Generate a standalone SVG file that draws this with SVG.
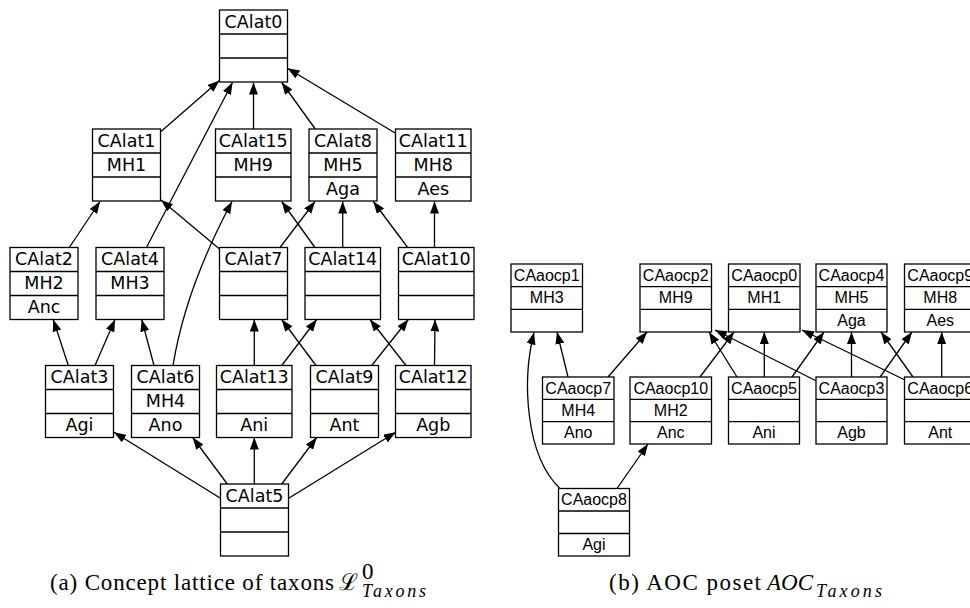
<svg xmlns="http://www.w3.org/2000/svg" width="970" height="608" viewBox="0 0 970 608">
<style>
.box{fill:#fff;stroke:#000;stroke-width:1.3}
.sep{stroke:#000;stroke-width:1.3}
.lt{font-family:"DejaVu Sans",sans-serif;font-size:17.5px;text-anchor:middle;fill:#000}
.rt{font-family:"Liberation Sans",Arial,sans-serif;font-size:16px;text-anchor:middle;fill:#000}
.e{stroke:#000;stroke-width:1.3;fill:none;marker-end:url(#ah)}
.cap{font-family:"Liberation Serif","DejaVu Serif",serif;font-size:23px;fill:#000}
.capi{font-family:"Liberation Serif","DejaVu Serif",serif;font-style:italic;fill:#000}
</style>
<defs>
<marker id="ah" markerUnits="userSpaceOnUse" markerWidth="12" markerHeight="9" refX="12" refY="4.5" orient="auto">
<path d="M0,0 L12,4.5 L0,9 z" fill="#000"/>
</marker>
</defs>
<rect width="970" height="608" fill="#fff"/>
<g id="connectors">
<line class="e" x1="161" y1="131.5" x2="219.5" y2="80.5"/>
<line class="e" x1="146.7" y1="247" x2="232.5" y2="82.5"/>
<line class="e" x1="253.5" y1="129" x2="253.5" y2="82.5"/>
<line class="e" x1="315.3" y1="129" x2="281.7" y2="82.5"/>
<line class="e" x1="395.5" y1="133.3" x2="287.5" y2="68.3"/>
<line class="e" x1="69.3" y1="247.5" x2="100" y2="201.5"/>
<line class="e" x1="219.5" y1="249" x2="161" y2="200"/>
<path class="e" d="M173,365.5 Q185.5,288.5 232,201.5"/>
<line class="e" x1="315" y1="247.5" x2="281.7" y2="201.5"/>
<line class="e" x1="280" y1="247.5" x2="315" y2="201.5"/>
<line class="e" x1="342.7" y1="247.5" x2="342.7" y2="201.5"/>
<line class="e" x1="407.3" y1="247" x2="373.3" y2="201.5"/>
<line class="e" x1="434.5" y1="247.5" x2="434.5" y2="201.5"/>
<line class="e" x1="68.3" y1="365.5" x2="53.3" y2="319.5"/>
<line class="e" x1="95" y1="365.5" x2="115" y2="319.5"/>
<line class="e" x1="154" y1="365.5" x2="141.7" y2="319.5"/>
<line class="e" x1="254.3" y1="365.5" x2="254.3" y2="319.5"/>
<line class="e" x1="281.7" y1="365.5" x2="316.7" y2="319.5"/>
<line class="e" x1="316" y1="365.5" x2="281.7" y2="319.5"/>
<line class="e" x1="371.7" y1="365.5" x2="408.3" y2="319.5"/>
<line class="e" x1="406" y1="365.5" x2="370" y2="319.5"/>
<line class="e" x1="434.5" y1="365.5" x2="435" y2="319.5"/>
<line class="e" x1="220.5" y1="498.3" x2="114" y2="432.3"/>
<line class="e" x1="227.3" y1="484" x2="192.7" y2="437.5"/>
<line class="e" x1="254.3" y1="484" x2="254.3" y2="437.5"/>
<line class="e" x1="281.7" y1="484" x2="316.7" y2="437.5"/>
<line class="e" x1="288.7" y1="498.3" x2="395.7" y2="432.3"/>
<line class="e" x1="568" y1="377" x2="557" y2="332"/>
<path class="e" d="M560,488.5 C525,455 522,380 534,332.5"/>
<line class="e" x1="608" y1="377" x2="647" y2="332"/>
<line class="e" x1="700" y1="377" x2="734" y2="332"/>
<line class="e" x1="737" y1="377" x2="709" y2="332"/>
<line class="e" x1="764.3" y1="377" x2="764.3" y2="332"/>
<line class="e" x1="792" y1="377" x2="824" y2="332"/>
<line class="e" x1="816.5" y1="381" x2="715" y2="330"/>
<line class="e" x1="905" y1="380" x2="802" y2="330"/>
<line class="e" x1="851.5" y1="377" x2="851.5" y2="332"/>
<line class="e" x1="880" y1="377" x2="912" y2="332"/>
<line class="e" x1="913" y1="377" x2="881" y2="332"/>
<line class="e" x1="941.7" y1="377" x2="941.7" y2="332"/>
<line class="e" x1="617" y1="488.5" x2="648" y2="444"/>
</g>
<g id="CAlat0"><rect class="box" x="219.5" y="10" width="68" height="72"/><line class="sep" x1="219.5" y1="34" x2="287.5" y2="34"/><line class="sep" x1="219.5" y1="58" x2="287.5" y2="58"/><text class="lt" x="253.5" y="27.5">CAlat0</text></g>
<g id="CAlat1"><rect class="box" x="92.5" y="129" width="68" height="72"/><line class="sep" x1="92.5" y1="153" x2="160.5" y2="153"/><line class="sep" x1="92.5" y1="177" x2="160.5" y2="177"/><text class="lt" x="126.5" y="146.5">CAlat1</text><text class="lt" x="126.5" y="170.5">MH1</text></g>
<g id="CAlat15"><rect class="box" x="215.5" y="129" width="75.5" height="72"/><line class="sep" x1="215.5" y1="153" x2="291" y2="153"/><line class="sep" x1="215.5" y1="177" x2="291" y2="177"/><text class="lt" x="253.25" y="146.5">CAlat15</text><text class="lt" x="253.25" y="170.5">MH9</text></g>
<g id="CAlat8"><rect class="box" x="309" y="129" width="68" height="72"/><line class="sep" x1="309" y1="153" x2="377" y2="153"/><line class="sep" x1="309" y1="177" x2="377" y2="177"/><text class="lt" x="343" y="146.5">CAlat8</text><text class="lt" x="343" y="170.5">MH5</text><text class="lt" x="343" y="194.5">Aga</text></g>
<g id="CAlat11"><rect class="box" x="395.5" y="129" width="75.5" height="72"/><line class="sep" x1="395.5" y1="153" x2="471" y2="153"/><line class="sep" x1="395.5" y1="177" x2="471" y2="177"/><text class="lt" x="433.25" y="146.5">CAlat11</text><text class="lt" x="433.25" y="170.5">MH8</text><text class="lt" x="433.25" y="194.5">Aes</text></g>
<g id="CAlat2"><rect class="box" x="10" y="247.5" width="68" height="72"/><line class="sep" x1="10" y1="271.5" x2="78" y2="271.5"/><line class="sep" x1="10" y1="295.5" x2="78" y2="295.5"/><text class="lt" x="44" y="265">CAlat2</text><text class="lt" x="44" y="289">MH2</text><text class="lt" x="44" y="313">Anc</text></g>
<g id="CAlat4"><rect class="box" x="96" y="247.5" width="68" height="72"/><line class="sep" x1="96" y1="271.5" x2="164" y2="271.5"/><line class="sep" x1="96" y1="295.5" x2="164" y2="295.5"/><text class="lt" x="130" y="265">CAlat4</text><text class="lt" x="130" y="289">MH3</text></g>
<g id="CAlat7"><rect class="box" x="219.5" y="247.5" width="68" height="72"/><line class="sep" x1="219.5" y1="271.5" x2="287.5" y2="271.5"/><line class="sep" x1="219.5" y1="295.5" x2="287.5" y2="295.5"/><text class="lt" x="253.5" y="265">CAlat7</text></g>
<g id="CAlat14"><rect class="box" x="305" y="247.5" width="75.5" height="72"/><line class="sep" x1="305" y1="271.5" x2="380.5" y2="271.5"/><line class="sep" x1="305" y1="295.5" x2="380.5" y2="295.5"/><text class="lt" x="342.75" y="265">CAlat14</text></g>
<g id="CAlat10"><rect class="box" x="398.5" y="247.5" width="75.5" height="72"/><line class="sep" x1="398.5" y1="271.5" x2="474" y2="271.5"/><line class="sep" x1="398.5" y1="295.5" x2="474" y2="295.5"/><text class="lt" x="436.25" y="265">CAlat10</text></g>
<g id="CAlat3"><rect class="box" x="45.5" y="365.5" width="68" height="72"/><line class="sep" x1="45.5" y1="389.5" x2="113.5" y2="389.5"/><line class="sep" x1="45.5" y1="413.5" x2="113.5" y2="413.5"/><text class="lt" x="79.5" y="383">CAlat3</text><text class="lt" x="79.5" y="431">Agi</text></g>
<g id="CAlat6"><rect class="box" x="131.5" y="365.5" width="68" height="72"/><line class="sep" x1="131.5" y1="389.5" x2="199.5" y2="389.5"/><line class="sep" x1="131.5" y1="413.5" x2="199.5" y2="413.5"/><text class="lt" x="165.5" y="383">CAlat6</text><text class="lt" x="165.5" y="407">MH4</text><text class="lt" x="165.5" y="431">Ano</text></g>
<g id="CAlat13"><rect class="box" x="216.5" y="365.5" width="75.5" height="72"/><line class="sep" x1="216.5" y1="389.5" x2="292" y2="389.5"/><line class="sep" x1="216.5" y1="413.5" x2="292" y2="413.5"/><text class="lt" x="254.25" y="383">CAlat13</text><text class="lt" x="254.25" y="431">Ani</text></g>
<g id="CAlat9"><rect class="box" x="310.5" y="365.5" width="68" height="72"/><line class="sep" x1="310.5" y1="389.5" x2="378.5" y2="389.5"/><line class="sep" x1="310.5" y1="413.5" x2="378.5" y2="413.5"/><text class="lt" x="344.5" y="383">CAlat9</text><text class="lt" x="344.5" y="431">Ant</text></g>
<g id="CAlat12"><rect class="box" x="395.5" y="365.5" width="75.5" height="72"/><line class="sep" x1="395.5" y1="389.5" x2="471" y2="389.5"/><line class="sep" x1="395.5" y1="413.5" x2="471" y2="413.5"/><text class="lt" x="433.25" y="383">CAlat12</text><text class="lt" x="433.25" y="431">Agb</text></g>
<g id="CAlat5"><rect class="box" x="220.5" y="484" width="68" height="72"/><line class="sep" x1="220.5" y1="508" x2="288.5" y2="508"/><line class="sep" x1="220.5" y1="532" x2="288.5" y2="532"/><text class="lt" x="254.5" y="501.5">CAlat5</text></g>
<g id="CAaocp1"><rect class="box" x="511" y="264" width="71.5" height="68"/><line class="sep" x1="511" y1="286.7" x2="582.5" y2="286.7"/><line class="sep" x1="511" y1="309.3" x2="582.5" y2="309.3"/><text class="rt" x="546.75" y="280.5">CAaocp1</text><text class="rt" x="546.75" y="303">MH3</text></g>
<g id="CAaocp2"><rect class="box" x="640" y="264" width="71.5" height="68"/><line class="sep" x1="640" y1="286.7" x2="711.5" y2="286.7"/><line class="sep" x1="640" y1="309.3" x2="711.5" y2="309.3"/><text class="rt" x="675.75" y="280.5">CAaocp2</text><text class="rt" x="675.75" y="303">MH9</text></g>
<g id="CAaocp0"><rect class="box" x="728.5" y="264" width="71.5" height="68"/><line class="sep" x1="728.5" y1="286.7" x2="800" y2="286.7"/><line class="sep" x1="728.5" y1="309.3" x2="800" y2="309.3"/><text class="rt" x="764.25" y="280.5">CAaocp0</text><text class="rt" x="764.25" y="303">MH1</text></g>
<g id="CAaocp4"><rect class="box" x="816" y="264" width="71" height="68"/><line class="sep" x1="816" y1="286.7" x2="887" y2="286.7"/><line class="sep" x1="816" y1="309.3" x2="887" y2="309.3"/><text class="rt" x="851.5" y="280.5">CAaocp4</text><text class="rt" x="851.5" y="303">MH5</text><text class="rt" x="851.5" y="325.8">Aga</text></g>
<g id="CAaocp9"><rect class="box" x="904.5" y="264" width="71.5" height="68"/><line class="sep" x1="904.5" y1="286.7" x2="976" y2="286.7"/><line class="sep" x1="904.5" y1="309.3" x2="976" y2="309.3"/><text class="rt" x="940.25" y="280.5">CAaocp9</text><text class="rt" x="940.25" y="303">MH8</text><text class="rt" x="940.25" y="325.8">Aes</text></g>
<g id="CAaocp7"><rect class="box" x="542.5" y="377" width="71.5" height="67"/><line class="sep" x1="542.5" y1="399.3" x2="614" y2="399.3"/><line class="sep" x1="542.5" y1="421.7" x2="614" y2="421.7"/><text class="rt" x="578.25" y="393.5">CAaocp7</text><text class="rt" x="578.25" y="416">MH4</text><text class="rt" x="578.25" y="438.3">Ano</text></g>
<g id="CAaocp10"><rect class="box" x="630" y="377" width="81.5" height="67"/><line class="sep" x1="630" y1="399.3" x2="711.5" y2="399.3"/><line class="sep" x1="630" y1="421.7" x2="711.5" y2="421.7"/><text class="rt" x="670.75" y="393.5">CAaocp10</text><text class="rt" x="670.75" y="416">MH2</text><text class="rt" x="670.75" y="438.3">Anc</text></g>
<g id="CAaocp5"><rect class="box" x="728.5" y="377" width="71" height="67"/><line class="sep" x1="728.5" y1="399.3" x2="799.5" y2="399.3"/><line class="sep" x1="728.5" y1="421.7" x2="799.5" y2="421.7"/><text class="rt" x="764" y="393.5">CAaocp5</text><text class="rt" x="764" y="438.3">Ani</text></g>
<g id="CAaocp3"><rect class="box" x="816" y="377" width="71" height="67"/><line class="sep" x1="816" y1="399.3" x2="887" y2="399.3"/><line class="sep" x1="816" y1="421.7" x2="887" y2="421.7"/><text class="rt" x="851.5" y="393.5">CAaocp3</text><text class="rt" x="851.5" y="438.3">Agb</text></g>
<g id="CAaocp6"><rect class="box" x="904.5" y="377" width="71.5" height="67"/><line class="sep" x1="904.5" y1="399.3" x2="976" y2="399.3"/><line class="sep" x1="904.5" y1="421.7" x2="976" y2="421.7"/><text class="rt" x="940.25" y="393.5">CAaocp6</text><text class="rt" x="940.25" y="438.3">Ant</text></g>
<g id="CAaocp8"><rect class="box" x="558.5" y="488.5" width="71" height="67.5"/><line class="sep" x1="558.5" y1="511" x2="629.5" y2="511"/><line class="sep" x1="558.5" y1="533.5" x2="629.5" y2="533.5"/><text class="rt" x="594" y="505">CAaocp8</text><text class="rt" x="594" y="550">Agi</text></g>
<g id="captions">
<text class="cap" x="50" y="590" textLength="284" lengthAdjust="spacing">(a) Concept lattice of taxons</text>
<text class="cap" x="339" y="590">ℒ</text>
<text class="cap" x="362" y="579" font-size="15">0</text>
<text class="capi" x="362" y="597" font-size="18" textLength="64" lengthAdjust="spacing">Taxons</text>
<text class="cap" x="609" y="590" textLength="152" lengthAdjust="spacing">(b) AOC poset</text>
<text class="capi" x="767" y="590" font-size="23">AOC</text>
<text class="capi" x="816" y="597" font-size="18" textLength="66" lengthAdjust="spacing">Taxons</text>
</g>
</svg>
